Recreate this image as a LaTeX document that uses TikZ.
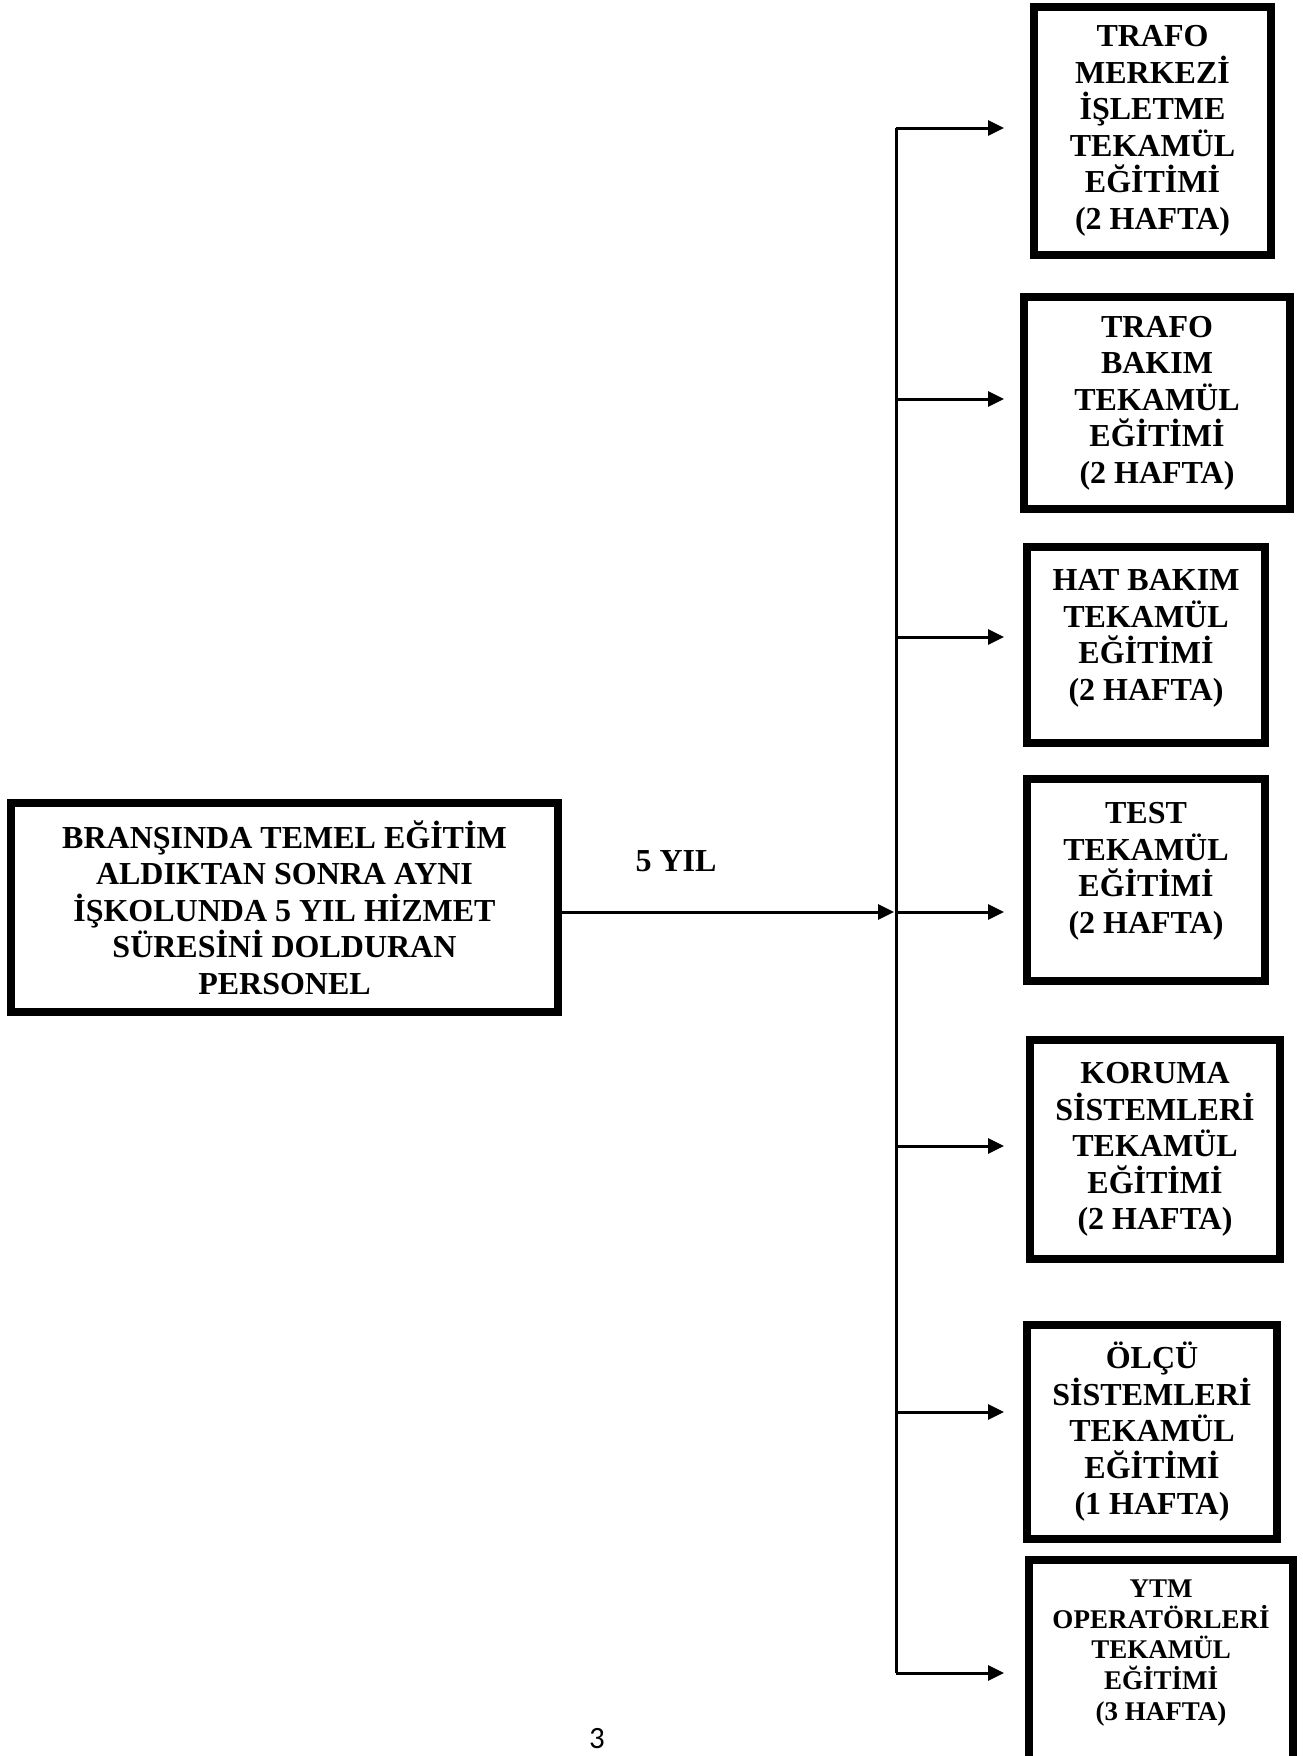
\documentclass[tikz,border=0pt]{standalone}
\usepackage{fontspec}
\setmainfont{Liberation Serif}
\newfontfamily\pagefont{Carlito}
\usetikzlibrary{arrows.meta,calc}
\begin{document}
\begin{tikzpicture}[x=1pt,y=-1pt,
  box/.style={draw, line width=8pt, inner sep=0pt, align=center,
    font=\bfseries\fontsize{32}{36.5}\selectfont},
  smallbox/.style={box, font=\bfseries\fontsize{27}{30.8}\selectfont},
  arr/.style={line width=3pt, -{Triangle[length=16pt,width=15pt]}},
  spine/.style={line width=3pt},
  lbl/.style={font=\bfseries\fontsize{32}{36.5}\selectfont, inner sep=0pt}]
\clip (0,0) rectangle (1303,1756);
\fill[white] (0,0) rectangle (1303,1756);

% source box
\node[box, line width=7.5pt, minimum width=547pt, minimum height=209pt] (src) at (284.5,907.5)
  {BRANŞINDA TEMEL EĞİTİM\\ALDIKTAN SONRA AYNI\\İŞKOLUNDA 5 YIL HİZMET\\SÜRESİNİ DOLDURAN\\PERSONEL};

% target boxes
\node[box, minimum width=237pt, minimum height=248pt] (b1) at (1152.5,131)
  {TRAFO\\MERKEZİ\\İŞLETME\\TEKAMÜL\\EĞİTİMİ\\(2 HAFTA)};
\node[box, minimum width=266pt, minimum height=212pt] (b2) at (1157,403)
  {TRAFO\\BAKIM\\TEKAMÜL\\EĞİTİMİ\\(2 HAFTA)};
\node[box, minimum width=238pt, minimum height=196pt, text depth=20pt] (b3) at (1146,645)
  {HAT BAKIM\\TEKAMÜL\\EĞİTİMİ\\(2 HAFTA)};
\node[box, minimum width=238pt, minimum height=202pt, text depth=24pt] (b4) at (1146,880)
  {TEST\\TEKAMÜL\\EĞİTİMİ\\(2 HAFTA)};
\node[box, minimum width=250pt, minimum height=219pt] (b5) at (1155,1149.5)
  {KORUMA\\SİSTEMLERİ\\TEKAMÜL\\EĞİTİMİ\\(2 HAFTA)};
\node[box, minimum width=250pt, minimum height=214pt] (b6) at (1152,1432)
  {ÖLÇÜ\\SİSTEMLERİ\\TEKAMÜL\\EĞİTİMİ\\(1 HAFTA)};
\node[smallbox, minimum width=264pt, minimum height=226pt, text depth=46pt] (b7) at (1161,1673)
  {YTM\\OPERATÖRLERİ\\TEKAMÜL\\EĞİTİMİ\\(3 HAFTA)};

% spine coordinates
\coordinate (s1) at (896,128);
\coordinate (s2) at (896,399);
\coordinate (s3) at (896,637);
\coordinate (s4) at (896,912);
\coordinate (s5) at (896,1146);
\coordinate (s6) at (896,1412);
\coordinate (s7) at (896,1673);

\draw[spine] (s1) -- (s7);
\draw[arr, shorten >=2pt] (src.east |- s4) -- (s4);

\draw[arr, shorten >=26pt] (s1) -- (s1 -| b1.west);
\draw[arr, shorten >=16pt] (s2) -- (s2 -| b2.west);
\draw[arr, shorten >=19pt] (s3) -- (s3 -| b3.west);
\draw[arr, shorten >=19pt] (s4) -- (s4 -| b4.west);
\draw[arr, shorten >=22pt] (s5) -- (s5 -| b5.west);
\draw[arr, shorten >=19pt] (s6) -- (s6 -| b6.west);
\draw[arr, shorten >=21pt] (s7) -- (s7 -| b7.west);

\node[lbl] (yil) at (676,861) {5 YIL};
\node[font=\pagefont\fontsize{31}{34}\selectfont, inner sep=0pt] (pg) at (597,1739) {3};
\end{tikzpicture}
\end{document}
